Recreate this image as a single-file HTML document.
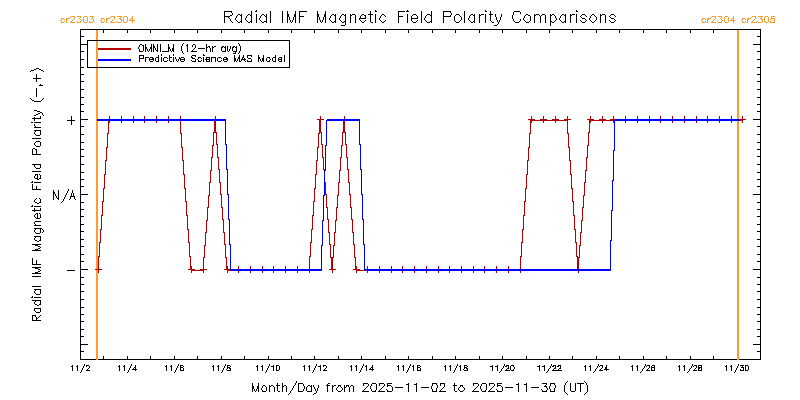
<!DOCTYPE html>
<html lang="en"><head><meta charset="utf-8"><title>Radial IMF Magnetic Field Polarity Comparisons</title>
<style>
html,body{margin:0;padding:0;background:#fff;font-family:"Liberation Sans",sans-serif}
svg{display:block;position:absolute;left:0;top:0}
svg path{fill:none;stroke-width:1;stroke-linecap:butt}
svg .tl text{font-family:"Liberation Sans",sans-serif;fill:#000;fill-opacity:0;stroke:none}
</style></head><body>
<svg width="800" height="400" viewBox="0 0 800 400" shape-rendering="crispEdges">
<rect width="800" height="400" fill="#fff"/>
<g role="img" aria-label="plot frame and axis ticks"><title>plot frame and axis ticks</title><path stroke="#000000" d="M80.5 29v331M103.5 29v4M103.5 356v4M127.5 29v4M127.5 356v4M150.5 29v4M150.5 356v4M174.5 29v4M174.5 356v4M197.5 29v4M197.5 356v4M221.5 29v4M221.5 356v4M244.5 29v4M244.5 356v4M268.5 29v4M268.5 356v4M291.5 29v4M291.5 356v4M314.5 29v4M314.5 356v4M338.5 29v4M338.5 356v4M361.5 29v4M361.5 356v4M385.5 29v4M385.5 356v4M408.5 29v4M408.5 356v4M432.5 29v4M432.5 356v4M455.5 29v4M455.5 356v4M479.5 29v4M479.5 356v4M502.5 29v4M502.5 356v4M526.5 29v4M526.5 356v4M549.5 29v4M549.5 356v4M572.5 29v4M572.5 356v4M596.5 29v4M596.5 356v4M619.5 29v4M619.5 356v4M643.5 29v4M643.5 356v4M666.5 29v4M666.5 356v4M690.5 29v4M690.5 356v4M713.5 29v4M713.5 356v4M737.5 29v4M737.5 356v4M760.5 29v331M81 29.5h22M104 29.5h23M128 29.5h22M151 29.5h23M175 29.5h22M198 29.5h23M222 29.5h22M245 29.5h23M269 29.5h22M292 29.5h22M315 29.5h23M339 29.5h22M362 29.5h23M386 29.5h22M409 29.5h23M433 29.5h22M456 29.5h23M480 29.5h22M503 29.5h23M527 29.5h22M550 29.5h22M573 29.5h23M597 29.5h22M620 29.5h23M644 29.5h22M667 29.5h23M691 29.5h22M714 29.5h23M738 29.5h22M81 36.5h3M757 36.5h3M81 44.5h7M753 44.5h7M81 51.5h3M757 51.5h3M81 59.5h3M757 59.5h3M81 67.5h3M757 67.5h3M81 74.5h3M757 74.5h3M81 81.5h3M757 81.5h3M81 89.5h3M757 89.5h3M81 97.5h3M757 97.5h3M81 104.5h3M757 104.5h3M81 111.5h3M757 111.5h3M81 119.5h7M753 119.5h7M81 126.5h3M757 126.5h3M81 134.5h3M757 134.5h3M81 142.5h3M757 142.5h3M81 149.5h3M757 149.5h3M81 156.5h3M757 156.5h3M81 164.5h3M757 164.5h3M81 172.5h3M757 172.5h3M81 179.5h3M757 179.5h3M81 186.5h3M757 186.5h3M81 194.5h7M753 194.5h7M81 202.5h3M757 202.5h3M81 209.5h3M757 209.5h3M81 216.5h3M757 216.5h3M81 224.5h3M757 224.5h3M81 231.5h3M757 231.5h3M81 239.5h3M757 239.5h3M81 246.5h3M757 246.5h3M81 254.5h3M757 254.5h3M81 261.5h3M757 261.5h3M81 269.5h7M753 269.5h7M81 277.5h3M757 277.5h3M81 284.5h3M757 284.5h3M81 291.5h3M757 291.5h3M81 299.5h3M757 299.5h3M81 307.5h3M757 307.5h3M81 314.5h3M757 314.5h3M81 321.5h3M757 321.5h3M81 329.5h3M757 329.5h3M81 336.5h3M757 336.5h3M81 344.5h7M753 344.5h7M81 351.5h3M757 351.5h3M81 359.5h22M104 359.5h23M128 359.5h22M151 359.5h23M175 359.5h22M198 359.5h23M222 359.5h22M245 359.5h23M269 359.5h22M292 359.5h22M315 359.5h23M339 359.5h22M362 359.5h23M386 359.5h22M409 359.5h23M433 359.5h22M456 359.5h23M480 359.5h22M503 359.5h23M527 359.5h22M550 359.5h22M573 359.5h23M597 359.5h22M620 359.5h23M644 359.5h22M667 359.5h23M691 359.5h22M714 359.5h23M738 359.5h22"/></g>
<g role="img" aria-label="Carrington rotation boundaries"><title>Carrington rotation boundaries</title><path stroke="#FF9B2D" d="M96.5 30v330M97.5 30v330M737.5 30v330M738.5 30v330"/></g>
<g role="img" aria-label="Radial IMF Magnetic Field Polarity Comparisons"><title>Radial IMF Magnetic Field Polarity Comparisons</title><path stroke="#000000" d="M224.5 11v12M241.5 14v9M251.5 11v12M256.5 14v9M266.5 14v9M270.5 11v12M282.5 11v12M287.5 11v12M288.5 14v3M289.5 17v3M293.5 17v3M294.5 14v3M295.5 11v12M299.5 11v12M317.5 11v12M318.5 14v3M319.5 17v3M323.5 17v3M324.5 14v3M325.5 11v12M335.5 14v9M345.5 14v11M350.5 14v9M355.5 15v8M360.5 16v3M365.5 15v4M370.5 11v11M375.5 14v9M398.5 11v12M407.5 14v9M411.5 16v5M417.5 16v3M421.5 11v12M431.5 11v12M443.5 11v12M454.5 16v5M461.5 17v3M464.5 11v12M474.5 14v9M479.5 14v9M485.5 14v9M490.5 11v10M495.5 14v3M496.5 17v3M500.5 17v3M501.5 14v3M512.5 15v4M513.5 12v3M530.5 16v5M534.5 14v9M540.5 16v7M545.5 15v8M550.5 14v12M565.5 14v9M570.5 14v9M576.5 14v9M596.5 17v3M600.5 14v9M605.5 15v8M256 10.5h1M375 10.5h1M407 10.5h1M485 10.5h1M576 10.5h1M225 11.5h7M255 11.5h2M300 11.5h7M375 11.5h2M399 11.5h6M406 11.5h3M444 11.5h7M485 11.5h2M514 11.5h6M576 11.5h2M231 12.5h1M450 12.5h1M520 12.5h1M232 13.5h1M451 13.5h1M520 13.5h1M232 14.5h1M238 14.5h2M248 14.5h2M262 14.5h2M332 14.5h2M342 14.5h2M352 14.5h3M362 14.5h2M368 14.5h2M371 14.5h2M382 14.5h2M413 14.5h3M427 14.5h3M451 14.5h1M456 14.5h3M471 14.5h2M481 14.5h3M489 14.5h1M491 14.5h2M526 14.5h2M536 14.5h3M542 14.5h3M552 14.5h2M562 14.5h2M572 14.5h3M582 14.5h3M592 14.5h2M602 14.5h3M611 14.5h3M230 15.5h2M237 15.5h1M240 15.5h1M247 15.5h1M250 15.5h1M261 15.5h1M264 15.5h1M331 15.5h1M334 15.5h1M341 15.5h1M344 15.5h1M351 15.5h1M361 15.5h1M364 15.5h1M381 15.5h1M384 15.5h1M412 15.5h1M416 15.5h1M426 15.5h1M430 15.5h1M450 15.5h1M455 15.5h1M459 15.5h1M470 15.5h1M473 15.5h1M480 15.5h1M525 15.5h1M528 15.5h2M535 15.5h1M539 15.5h1M541 15.5h1M551 15.5h1M554 15.5h1M561 15.5h1M564 15.5h1M571 15.5h1M581 15.5h1M585 15.5h1M591 15.5h1M594 15.5h1M601 15.5h1M610 15.5h1M614 15.5h1M225 16.5h5M236 16.5h1M246 16.5h1M260 16.5h1M265 16.5h1M300 16.5h4M330 16.5h1M340 16.5h1M380 16.5h1M385 16.5h1M399 16.5h4M425 16.5h1M444 16.5h7M460 16.5h1M469 16.5h1M524 16.5h1M555 16.5h1M560 16.5h1M580 16.5h1M586 16.5h1M590 16.5h1M595 16.5h1M609 16.5h1M615 16.5h1M228 17.5h1M236 17.5h1M246 17.5h1M260 17.5h1M330 17.5h1M340 17.5h1M380 17.5h1M425 17.5h1M469 17.5h1M524 17.5h1M555 17.5h1M560 17.5h1M581 17.5h1M590 17.5h1M610 17.5h1M229 18.5h1M235 18.5h1M245 18.5h1M259 18.5h1M329 18.5h1M339 18.5h1M359 18.5h1M361 18.5h4M379 18.5h1M412 18.5h5M424 18.5h1M468 18.5h1M523 18.5h1M556 18.5h1M559 18.5h1M582 18.5h3M589 18.5h1M611 18.5h3M230 19.5h1M235 19.5h1M245 19.5h1M259 19.5h1M329 19.5h1M339 19.5h1M359 19.5h1M379 19.5h1M424 19.5h1M468 19.5h1M513 19.5h1M520 19.5h1M523 19.5h1M556 19.5h1M559 19.5h1M585 19.5h1M589 19.5h1M614 19.5h1M230 20.5h1M236 20.5h1M246 20.5h1M260 20.5h1M290 20.5h1M292 20.5h1M320 20.5h1M322 20.5h1M330 20.5h1M340 20.5h1M360 20.5h1M365 20.5h1M380 20.5h1M385 20.5h1M417 20.5h1M425 20.5h1M460 20.5h1M469 20.5h1M497 20.5h1M499 20.5h1M513 20.5h1M520 20.5h1M524 20.5h1M555 20.5h1M560 20.5h1M580 20.5h1M586 20.5h1M590 20.5h1M595 20.5h1M609 20.5h1M615 20.5h1M231 21.5h1M237 21.5h1M240 21.5h1M247 21.5h1M250 21.5h1M261 21.5h1M264 21.5h2M290 21.5h1M292 21.5h1M320 21.5h1M322 21.5h1M331 21.5h1M334 21.5h1M341 21.5h1M344 21.5h1M361 21.5h1M364 21.5h1M381 21.5h1M384 21.5h1M412 21.5h1M416 21.5h1M426 21.5h1M430 21.5h1M455 21.5h1M459 21.5h1M470 21.5h1M473 21.5h1M491 21.5h1M497 21.5h1M499 21.5h1M514 21.5h1M519 21.5h1M525 21.5h1M529 21.5h1M551 21.5h1M554 21.5h1M561 21.5h1M564 21.5h1M581 21.5h1M585 21.5h1M591 21.5h1M594 21.5h1M610 21.5h1M614 21.5h1M232 22.5h1M238 22.5h2M248 22.5h2M262 22.5h2M291 22.5h1M321 22.5h1M332 22.5h2M342 22.5h2M362 22.5h2M371 22.5h2M382 22.5h2M413 22.5h3M427 22.5h3M456 22.5h3M471 22.5h2M492 22.5h2M498 22.5h1M515 22.5h4M526 22.5h3M552 22.5h2M562 22.5h2M582 22.5h3M592 22.5h2M611 22.5h3M498 23.5h1M497 24.5h1M341 25.5h4M494 25.5h3"/></g>
<g role="img" aria-label="Month/Day from 2025-11-02 to 2025-11-30 (UT)"><title>Month/Day from 2025-11-02 to 2025-11-30 (UT)</title><path stroke="#000000" d="M252.5 383v9M253.5 386v3M257.5 386v3M258.5 383v9M266.5 387v4M269.5 385v7M274.5 387v5M277.5 383v8M282.5 383v9M286.5 386v6M298.5 383v9M304.5 386v3M306.5 387v4M311.5 385v7M317.5 388v3M318.5 385v3M327.5 384v8M332.5 385v7M344.5 385v7M349.5 387v5M353.5 386v6M363.5 383v3M370.5 386v3M376.5 384v6M379.5 383v3M387.5 383v4M392.5 387v4M408.5 383v9M416.5 383v9M431.5 386v3M432.5 383v3M432.5 389v3M436.5 388v4M437.5 385v3M440.5 383v3M444.5 383v4M454.5 383v8M473.5 383v3M480.5 386v3M486.5 384v6M489.5 383v3M497.5 383v4M502.5 387v4M518.5 383v9M526.5 383v9M549.5 386v3M550.5 383v3M550.5 389v3M554.5 388v4M555.5 385v3M564.5 385v7M570.5 383v8M575.5 383v8M580.5 383v9M587.5 385v7M296 381.5h1M567 381.5h1M584 381.5h1M296 382.5h1M566 382.5h1M585 382.5h1M295 383.5h1M299 383.5h4M328 383.5h2M364 383.5h4M372 383.5h4M380 383.5h4M388 383.5h4M433 383.5h4M441 383.5h3M474 383.5h4M482 383.5h4M490 383.5h4M498 383.5h4M542 383.5h5M551 383.5h4M565 383.5h1M577 383.5h3M581 383.5h3M586 383.5h1M295 384.5h1M303 384.5h1M368 384.5h1M371 384.5h1M384 384.5h1M406 384.5h2M414 384.5h2M436 384.5h1M478 384.5h1M481 384.5h1M494 384.5h1M516 384.5h2M524 384.5h2M546 384.5h1M554 384.5h1M565 384.5h1M586 384.5h1M263 385.5h2M271 385.5h2M276 385.5h1M278 385.5h2M284 385.5h2M294 385.5h1M303 385.5h1M308 385.5h2M313 385.5h1M326 385.5h1M328 385.5h2M334 385.5h2M338 385.5h3M346 385.5h3M351 385.5h2M368 385.5h1M371 385.5h1M384 385.5h1M388 385.5h3M453 385.5h1M455 385.5h2M460 385.5h3M478 385.5h1M481 385.5h1M494 385.5h1M498 385.5h3M545 385.5h1M262 386.5h1M265 386.5h1M270 386.5h1M273 386.5h1M283 386.5h1M293 386.5h1M307 386.5h1M310 386.5h1M313 386.5h1M333 386.5h1M338 386.5h1M340 386.5h1M346 386.5h1M348 386.5h1M350 386.5h1M367 386.5h1M383 386.5h1M391 386.5h1M460 386.5h1M462 386.5h1M477 386.5h1M493 386.5h1M501 386.5h1M544 386.5h3M262 387.5h1M293 387.5h1M314 387.5h1M337 387.5h1M341 387.5h1M345 387.5h1M366 387.5h1M382 387.5h1M395 387.5h8M421 387.5h8M443 387.5h1M459 387.5h1M463 387.5h1M476 387.5h1M492 387.5h1M505 387.5h8M531 387.5h8M546 387.5h1M261 388.5h1M292 388.5h1M314 388.5h1M336 388.5h1M342 388.5h1M365 388.5h1M381 388.5h1M442 388.5h1M458 388.5h1M464 388.5h1M475 388.5h1M491 388.5h1M547 388.5h1M254 389.5h1M256 389.5h1M261 389.5h1M292 389.5h1M303 389.5h1M315 389.5h1M336 389.5h1M342 389.5h1M364 389.5h1M371 389.5h1M380 389.5h1M386 389.5h1M441 389.5h1M458 389.5h1M464 389.5h1M474 389.5h1M481 389.5h1M490 389.5h1M496 389.5h1M541 389.5h1M547 389.5h1M254 390.5h1M256 390.5h1M262 390.5h1M291 390.5h1M303 390.5h1M315 390.5h1M337 390.5h1M341 390.5h1M363 390.5h1M371 390.5h1M375 390.5h1M379 390.5h1M387 390.5h1M440 390.5h1M459 390.5h1M463 390.5h1M473 390.5h1M481 390.5h1M485 390.5h1M489 390.5h1M497 390.5h1M542 390.5h1M546 390.5h1M255 391.5h1M262 391.5h4M278 391.5h2M290 391.5h1M299 391.5h4M307 391.5h4M316 391.5h1M338 391.5h3M362 391.5h7M372 391.5h4M378 391.5h7M387 391.5h5M433 391.5h3M439 391.5h7M455 391.5h2M460 391.5h3M472 391.5h7M482 391.5h4M488 391.5h7M497 391.5h5M542 391.5h5M551 391.5h3M571 391.5h4M290 392.5h1M316 392.5h1M565 392.5h1M586 392.5h1M289 393.5h1M314 393.5h2M566 393.5h1M585 393.5h1M288 394.5h1M313 394.5h1M567 394.5h1M584 394.5h1"/></g>
<g role="img" aria-label="Radial IMF Magnetic Field Polarity (-,+)"><title>Radial IMF Magnetic Field Polarity (-,+)</title><path stroke="#000000" d="M32.5 149v6M32.5 184v6M32.5 258v7M32.5 315v6M34.5 117v4M34.5 164v3M34.5 208v4M34.5 308v3M36.5 74v8M36.5 88v9M36.5 149v6M36.5 186v4M36.5 260v5M36.5 317v4M37.5 174v6M37.5 213v6M40.5 116v3M40.5 130v5M40.5 142v4M40.5 164v4M40.5 175v4M40.5 199v4M40.5 208v3M40.5 214v4M40.5 228v5M40.5 236v5M40.5 289v5M40.5 300v5M40.5 308v4M36 68.5h3M34 69.5h2M39 69.5h2M31 70.5h3M41 70.5h2M30 71.5h1M43 71.5h1M33 78.5h3M37 78.5h4M40 84.5h1M39 85.5h4M30 98.5h1M43 98.5h1M31 99.5h1M42 99.5h1M32 100.5h2M41 100.5h1M34 101.5h7M34 110.5h3M37 111.5h3M40 112.5h2M38 113.5h2M42 113.5h1M36 114.5h2M42 114.5h1M34 115.5h2M43 115.5h1M32 118.5h2M35 118.5h5M31 122.5h2M34 122.5h7M34 124.5h1M34 125.5h1M35 126.5h1M34 127.5h7M34 130.5h6M35 131.5h1M34 132.5h1M34 133.5h1M35 134.5h1M36 135.5h4M32 138.5h9M36 141.5h4M35 142.5h1M34 143.5h1M34 144.5h1M35 145.5h1M36 146.5h4M33 148.5h2M35 149.5h1M33 154.5h3M37 154.5h4M32 164.5h2M35 164.5h5M35 167.5h1M36 168.5h4M32 171.5h9M35 174.5h2M39 174.5h1M35 175.5h1M34 176.5h1M34 177.5h1M35 178.5h2M39 178.5h1M38 179.5h1M32 181.5h1M31 182.5h2M34 182.5h7M33 189.5h3M37 189.5h4M36 198.5h1M39 198.5h1M35 199.5h1M34 200.5h1M34 201.5h1M35 202.5h2M39 202.5h1M37 203.5h2M32 205.5h1M31 206.5h2M34 206.5h7M32 210.5h2M35 210.5h5M36 213.5h1M39 213.5h1M35 214.5h1M34 215.5h1M34 216.5h1M35 217.5h1M36 218.5h1M38 218.5h2M35 221.5h6M34 222.5h1M34 223.5h1M35 224.5h1M34 225.5h7M34 228.5h6M41 228.5h1M35 229.5h1M42 229.5h1M34 230.5h1M43 230.5h1M34 231.5h1M43 231.5h1M35 232.5h1M42 232.5h1M36 233.5h4M34 236.5h6M35 237.5h1M34 238.5h1M34 239.5h1M35 240.5h2M39 240.5h1M37 241.5h2M32 244.5h9M35 245.5h3M38 246.5h2M40 247.5h1M38 248.5h2M35 249.5h3M32 250.5h9M33 264.5h3M37 264.5h4M32 267.5h9M35 268.5h3M38 269.5h2M40 270.5h1M38 271.5h2M35 272.5h3M32 273.5h9M32 276.5h9M32 286.5h9M34 289.5h6M35 290.5h1M34 291.5h1M34 292.5h1M35 293.5h1M36 294.5h4M32 296.5h1M31 297.5h2M34 297.5h7M32 300.5h8M35 301.5h1M34 302.5h1M34 303.5h1M35 304.5h2M39 304.5h1M37 305.5h2M35 308.5h5M35 311.5h1M36 312.5h4M33 315.5h3M40 315.5h1M35 316.5h1M39 316.5h1M38 317.5h1M37 318.5h1M33 320.5h3M37 320.5h4"/></g>
<g role="img" aria-label="11/2"><title>11/2</title><path stroke="#000000" d="M72.5 365v6M77.5 365v6M84 364.5h1M84 365.5h1M86 365.5h3M71 366.5h1M76 366.5h1M83 366.5h1M86 366.5h1M89 366.5h1M83 367.5h1M89 367.5h1M82 368.5h1M88 368.5h1M82 369.5h1M87 369.5h1M81 370.5h1M86 370.5h4M81 371.5h1M80 372.5h1"/></g>
<g role="img" aria-label="11/4"><title>11/4</title><path stroke="#000000" d="M119.5 365v6M124.5 365v6M135.5 365v6M131 364.5h1M131 365.5h1M118 366.5h1M123 366.5h1M130 366.5h1M130 367.5h1M134 367.5h1M129 368.5h1M133 368.5h1M129 369.5h1M132 369.5h3M136 369.5h1M128 370.5h1M128 371.5h1M127 372.5h1"/></g>
<g role="img" aria-label="11/6"><title>11/6</title><path stroke="#000000" d="M166.5 365v6M171.5 365v6M180.5 365v6M183.5 368v3M178 364.5h1M178 365.5h1M181 365.5h2M165 366.5h1M170 366.5h1M177 366.5h1M183 366.5h1M177 367.5h1M181 367.5h2M176 368.5h1M176 369.5h1M175 370.5h1M181 370.5h2M175 371.5h1M174 372.5h1"/></g>
<g role="img" aria-label="11/8"><title>11/8</title><path stroke="#000000" d="M213.5 365v6M218.5 365v6M227.5 365v4M230.5 368v3M225 364.5h1M225 365.5h1M228 365.5h2M212 366.5h1M217 366.5h1M224 366.5h1M230 366.5h1M224 367.5h1M228 367.5h2M223 368.5h1M229 368.5h1M223 369.5h1M226 369.5h1M222 370.5h1M227 370.5h3M222 371.5h1M221 372.5h1"/></g>
<g role="img" aria-label="11/10"><title>11/10</title><path stroke="#000000" d="M257.5 365v6M262.5 365v6M273.5 365v6M276.5 365v6M279.5 366v4M269 364.5h1M269 365.5h1M277 365.5h2M256 366.5h1M261 366.5h1M268 366.5h1M271 366.5h2M268 367.5h1M267 368.5h1M267 369.5h1M266 370.5h1M277 370.5h2M266 371.5h1M265 372.5h1"/></g>
<g role="img" aria-label="11/12"><title>11/12</title><path stroke="#000000" d="M304.5 365v6M309.5 365v6M320.5 365v6M316 364.5h1M316 365.5h1M323 365.5h3M303 366.5h1M308 366.5h1M315 366.5h1M318 366.5h2M323 366.5h1M326 366.5h1M315 367.5h1M326 367.5h1M314 368.5h1M325 368.5h1M314 369.5h1M324 369.5h1M313 370.5h1M323 370.5h4M313 371.5h1M312 372.5h1"/></g>
<g role="img" aria-label="11/14"><title>11/14</title><path stroke="#000000" d="M351.5 365v6M356.5 365v6M366.5 365v6M372.5 365v6M363 364.5h1M363 365.5h1M350 366.5h1M355 366.5h1M362 366.5h1M365 366.5h1M362 367.5h1M371 367.5h1M361 368.5h1M370 368.5h1M361 369.5h1M369 369.5h3M373 369.5h1M360 370.5h1M360 371.5h1M359 372.5h1"/></g>
<g role="img" aria-label="11/16"><title>11/16</title><path stroke="#000000" d="M398.5 365v6M403.5 365v6M413.5 365v6M417.5 365v6M420.5 368v3M410 364.5h1M410 365.5h1M418 365.5h2M397 366.5h1M402 366.5h1M409 366.5h1M412 366.5h1M420 366.5h1M409 367.5h1M418 367.5h2M408 368.5h1M408 369.5h1M407 370.5h1M418 370.5h2M407 371.5h1M406 372.5h1"/></g>
<g role="img" aria-label="11/18"><title>11/18</title><path stroke="#000000" d="M445.5 365v6M450.5 365v6M460.5 365v6M464.5 365v4M467.5 368v3M457 364.5h1M457 365.5h1M465 365.5h2M444 366.5h1M449 366.5h1M456 366.5h1M459 366.5h1M467 366.5h1M456 367.5h1M465 367.5h2M455 368.5h1M466 368.5h1M455 369.5h1M463 369.5h1M454 370.5h1M464 370.5h3M454 371.5h1M453 372.5h1"/></g>
<g role="img" aria-label="11/20"><title>11/20</title><path stroke="#000000" d="M492.5 365v6M497.5 365v6M508.5 365v4M510.5 366v4M504 364.5h1M504 365.5h1M506 365.5h2M511 365.5h3M490 366.5h2M495 366.5h2M503 366.5h1M505 366.5h2M513 366.5h1M503 367.5h1M514 367.5h1M502 368.5h1M507 368.5h1M514 368.5h1M501 369.5h1M506 369.5h1M513 369.5h1M501 370.5h1M505 370.5h5M511 370.5h3M500 371.5h1M499 372.5h1"/></g>
<g role="img" aria-label="11/22"><title>11/22</title><path stroke="#000000" d="M539.5 365v6M544.5 365v6M555.5 365v4M560.5 365v4M551 364.5h1M551 365.5h1M553 365.5h2M558 365.5h2M537 366.5h2M542 366.5h2M550 366.5h1M552 366.5h2M557 366.5h2M550 367.5h1M549 368.5h1M554 368.5h1M559 368.5h1M548 369.5h1M553 369.5h1M558 369.5h1M548 370.5h1M552 370.5h10M547 371.5h1M546 372.5h1"/></g>
<g role="img" aria-label="11/24"><title>11/24</title><path stroke="#000000" d="M585.5 365v6M590.5 365v6M602.5 365v3M605.5 367v3M606.5 365v6M598 364.5h1M598 365.5h1M600 365.5h2M584 366.5h1M589 366.5h1M597 366.5h1M599 366.5h1M597 367.5h1M596 368.5h1M601 368.5h1M595 369.5h1M600 369.5h1M604 369.5h1M607 369.5h2M595 370.5h1M599 370.5h4M594 371.5h1M593 372.5h1"/></g>
<g role="img" aria-label="11/26"><title>11/26</title><path stroke="#000000" d="M632.5 365v6M637.5 365v6M649.5 365v3M651.5 366v5M654.5 365v6M645 364.5h1M645 365.5h1M647 365.5h2M652 365.5h2M631 366.5h1M636 366.5h1M644 366.5h1M646 366.5h1M644 367.5h1M652 367.5h2M643 368.5h1M648 368.5h1M642 369.5h1M647 369.5h1M642 370.5h1M646 370.5h4M652 370.5h2M641 371.5h1M640 372.5h1"/></g>
<g role="img" aria-label="11/28"><title>11/28</title><path stroke="#000000" d="M679.5 365v6M684.5 365v6M696.5 365v3M698.5 365v6M701.5 365v6M692 364.5h1M692 365.5h1M694 365.5h2M699 365.5h2M678 366.5h1M683 366.5h1M691 366.5h1M693 366.5h1M691 367.5h1M699 367.5h2M690 368.5h1M695 368.5h1M699 368.5h1M689 369.5h1M694 369.5h1M689 370.5h1M693 370.5h4M699 370.5h2M688 371.5h1M687 372.5h1"/></g>
<g role="img" aria-label="11/30"><title>11/30</title><path stroke="#000000" d="M726.5 365v6M731.5 365v6M742.5 365v3M743.5 367v4M745.5 365v6M748.5 366v4M738 364.5h1M738 365.5h1M740 365.5h2M743 365.5h1M746 365.5h2M725 366.5h1M730 366.5h1M737 366.5h1M737 367.5h1M741 367.5h1M736 368.5h1M736 369.5h1M740 369.5h1M735 370.5h1M740 370.5h3M746 370.5h2M735 371.5h1M734 372.5h1"/></g>
<g role="img" aria-label="+"><title>+</title><path stroke="#000000" d="M71.5 116v9M67 120.5h4M72 120.5h3"/></g>
<g role="img" aria-label="N/A"><title>N/A</title><path stroke="#000000" d="M53.5 190v10M58.5 190v10M70.5 196v3M71.5 193v4M72.5 190v3M73.5 193v4M74.5 196v3M68 189.5h1M68 190.5h1M67 191.5h1M54 192.5h1M67 192.5h1M54 193.5h1M66 193.5h1M55 194.5h1M66 194.5h1M55 195.5h1M65 195.5h1M56 196.5h1M65 196.5h1M72 196.5h1M56 197.5h1M64 197.5h1M57 198.5h1M64 198.5h1M63 199.5h1M69 199.5h1M75 199.5h1M63 200.5h1M62 201.5h1M61 202.5h1"/></g>
<g role="img" aria-label="-"><title>-</title><path stroke="#000000" d="M67 270.5h8"/></g>
<g role="img" aria-label="legend box"><title>legend box</title><path stroke="#000000" d="M87.5 40v28M289.5 40v28M88 40.5h201M88 67.5h201"/></g>
<g role="img" aria-label="OMNI_M (12-hr avg)"><title>OMNI_M (12-hr avg)</title><path stroke="#000000" d="M139.5 49v3M143.5 45v6M145.5 44v8M151.5 44v8M153.5 44v8M157.5 44v8M160.5 44v8M168.5 44v8M172.5 48v3M173.5 44v8M181.5 46v5M187.5 44v8M195.5 45v3M206.5 44v8M210.5 48v4M212.5 46v6M221.5 47v4M225.5 46v6M227.5 46v5M230.5 46v3M232.5 47v4M235.5 51v3M236.5 46v6M240.5 46v5M183 43.5h1M238 43.5h1M140 44.5h2M182 44.5h1M193 44.5h2M239 44.5h1M139 45.5h1M142 45.5h1M182 45.5h1M186 45.5h1M192 45.5h1M239 45.5h1M139 46.5h1M154 46.5h1M192 46.5h1M208 46.5h2M214 46.5h2M222 46.5h2M233 46.5h2M138 47.5h1M146 47.5h1M150 47.5h1M154 47.5h1M169 47.5h1M207 47.5h1M209 47.5h1M213 47.5h1M222 47.5h1M224 47.5h1M233 47.5h1M235 47.5h1M138 48.5h1M146 48.5h1M150 48.5h1M155 48.5h1M169 48.5h1M194 48.5h1M198 48.5h7M147 49.5h1M149 49.5h1M155 49.5h1M170 49.5h1M193 49.5h1M229 49.5h1M147 50.5h1M149 50.5h1M156 50.5h1M170 50.5h1M192 50.5h1M229 50.5h1M140 51.5h3M148 51.5h1M162 51.5h6M171 51.5h1M182 51.5h1M191 51.5h6M222 51.5h3M228 51.5h1M233 51.5h2M239 51.5h1M182 52.5h1M239 52.5h1M183 53.5h1M233 53.5h2M238 53.5h1"/></g>
<g role="img" aria-label="Predictive Science MAS Model"><title>Predictive Science MAS Model</title><path stroke="#000000" d="M139.5 55v7M143.5 55v4M145.5 57v5M149.5 58v3M152.5 57v3M153.5 58v3M155.5 58v3M158.5 55v7M161.5 57v5M163.5 58v3M169.5 55v6M173.5 57v5M180.5 58v3M184.5 58v3M195.5 59v3M203.5 57v5M206.5 57v5M209.5 57v5M211.5 57v5M215.5 57v5M217.5 58v3M223.5 58v3M226.5 57v3M227.5 58v3M234.5 55v7M235.5 58v3M239.5 55v7M242.5 57v3M243.5 55v3M244.5 58v3M247.5 55v3M251.5 59v3M258.5 55v7M262.5 58v3M263.5 55v7M266.5 58v3M272.5 58v3M275.5 55v7M278.5 58v3M281.5 57v5M284.5 55v7M161 54.5h1M173 54.5h1M203 54.5h1M140 55.5h3M161 55.5h1M173 55.5h1M192 55.5h4M203 55.5h2M248 55.5h4M191 56.5h1M195 56.5h1M251 56.5h1M146 57.5h3M150 57.5h2M156 57.5h2M164 57.5h3M170 57.5h2M175 57.5h1M179 57.5h1M181 57.5h3M191 57.5h2M198 57.5h3M207 57.5h2M212 57.5h3M218 57.5h3M224 57.5h2M238 57.5h1M259 57.5h1M267 57.5h3M273 57.5h2M279 57.5h2M140 58.5h3M167 58.5h1M175 58.5h1M179 58.5h1M192 58.5h3M198 58.5h1M201 58.5h1M221 58.5h1M238 58.5h1M248 58.5h3M259 58.5h1M269 58.5h1M150 59.5h2M176 59.5h1M178 59.5h1M181 59.5h3M197 59.5h1M205 59.5h1M207 59.5h2M224 59.5h2M237 59.5h1M241 59.5h1M243 59.5h1M245 59.5h1M260 59.5h1M270 59.5h1M279 59.5h2M167 60.5h1M176 60.5h1M178 60.5h1M191 60.5h1M198 60.5h1M201 60.5h1M221 60.5h1M237 60.5h1M241 60.5h1M247 60.5h1M260 60.5h1M269 60.5h1M150 61.5h3M156 61.5h2M164 61.5h3M170 61.5h2M177 61.5h1M181 61.5h3M192 61.5h3M198 61.5h3M207 61.5h2M218 61.5h3M224 61.5h3M236 61.5h1M240 61.5h1M245 61.5h1M247 61.5h4M261 61.5h1M267 61.5h3M273 61.5h2M279 61.5h2"/></g>
<g role="img" aria-label="cr2303 cr2304"><title>cr2303 cr2304</title><path stroke="#FF9B2D" d="M66.5 18v5M74.5 16v3M83.5 17v5M87.5 17v5M92.5 16v3M93.5 19v3M106.5 18v5M114.5 16v3M120.5 16v4M121.5 19v3M123.5 17v5M127.5 17v5M132.5 16v7M71 16.5h3M77 16.5h4M84 16.5h3M90 16.5h2M93 16.5h1M111 16.5h3M117 16.5h3M121 16.5h1M124 16.5h3M70 17.5h1M80 17.5h1M110 17.5h1M61 18.5h3M67 18.5h3M79 18.5h1M91 18.5h1M101 18.5h3M107 18.5h3M119 18.5h1M131 18.5h1M61 19.5h1M64 19.5h1M67 19.5h1M73 19.5h1M80 19.5h1M101 19.5h1M104 19.5h1M107 19.5h1M113 19.5h1M130 19.5h1M60 20.5h1M72 20.5h1M81 20.5h1M100 20.5h1M112 20.5h1M129 20.5h3M133 20.5h2M61 21.5h1M64 21.5h1M71 21.5h1M76 21.5h1M80 21.5h1M89 21.5h1M101 21.5h1M104 21.5h1M111 21.5h1M116 21.5h1M61 22.5h3M70 22.5h5M77 22.5h4M84 22.5h3M89 22.5h4M101 22.5h3M110 22.5h6M117 22.5h4M124 22.5h3"/></g>
<g role="img" aria-label="cr2304 cr2305"><title>cr2304 cr2305</title><path stroke="#FF9B2D" d="M707.5 18v5M715.5 16v3M724.5 17v5M728.5 17v5M733.5 16v7M747.5 18v5M755.5 16v3M761.5 16v4M762.5 19v3M764.5 17v5M768.5 17v5M771.5 16v3M774.5 18v5M712 16.5h3M718 16.5h4M725 16.5h3M752 16.5h3M758 16.5h3M762 16.5h1M765 16.5h3M772 16.5h3M711 17.5h1M721 17.5h1M751 17.5h1M702 18.5h3M708 18.5h3M720 18.5h1M732 18.5h1M742 18.5h3M748 18.5h3M760 18.5h1M772 18.5h2M702 19.5h1M705 19.5h1M708 19.5h1M714 19.5h1M721 19.5h1M731 19.5h1M742 19.5h1M745 19.5h1M748 19.5h1M754 19.5h1M770 19.5h1M701 20.5h1M713 20.5h1M722 20.5h1M730 20.5h3M734 20.5h2M741 20.5h1M753 20.5h1M702 21.5h1M705 21.5h1M712 21.5h1M717 21.5h1M721 21.5h1M742 21.5h1M745 21.5h1M752 21.5h1M757 21.5h1M770 21.5h1M702 22.5h3M711 22.5h5M718 22.5h4M725 22.5h3M742 22.5h3M751 22.5h6M758 22.5h4M765 22.5h3M770 22.5h4"/></g>
<g role="img" aria-label="OMNI_M legend line"><title>OMNI_M legend line</title><path stroke="#B40000" d="M98 48.5h33M98 49.5h33"/></g>
<g role="img" aria-label="MAS model legend line"><title>MAS model legend line</title><path stroke="#0000FF" d="M98 59.5h33M98 60.5h33"/></g>
<g role="img" aria-label="OMNI_M (12-hr avg) polarity series"><title>OMNI_M (12-hr avg) polarity series</title><path stroke="#B40000" d="M98.5 256v17M99.5 242v15M100.5 229v14M101.5 215v15M102.5 201v15M103.5 188v14M104.5 174v15M105.5 160v15M106.5 147v14M107.5 133v15M108.5 119v15M109.5 116v7M121.5 116v7M133.5 116v7M144.5 116v7M156.5 116v7M168.5 116v7M180.5 116v18M181.5 133v15M182.5 147v14M183.5 160v15M184.5 174v15M185.5 188v14M186.5 201v15M187.5 215v15M188.5 229v14M189.5 242v15M190.5 256v14M191.5 266v7M203.5 257v16M204.5 245v13M205.5 232v14M206.5 220v13M207.5 207v14M208.5 195v13M209.5 182v14M210.5 170v13M211.5 157v14M212.5 145v13M213.5 132v14M214.5 119v14M215.5 116v17M216.5 132v13M217.5 144v14M218.5 157v13M219.5 169v14M220.5 182v13M221.5 194v14M222.5 207v13M223.5 219v14M224.5 232v13M225.5 244v14M226.5 257v13M227.5 266v7M238.5 266v7M250.5 266v7M262.5 266v7M273.5 266v7M285.5 266v7M297.5 266v7M309.5 256v17M310.5 242v15M311.5 229v14M312.5 215v15M313.5 201v15M314.5 188v14M315.5 174v15M316.5 160v15M317.5 147v14M318.5 133v15M319.5 119v15M320.5 116v17M321.5 132v13M322.5 144v14M323.5 157v13M324.5 169v14M325.5 182v13M326.5 194v14M327.5 207v13M328.5 219v14M329.5 232v13M330.5 244v14M331.5 257v13M332.5 257v16M333.5 245v13M334.5 232v14M335.5 220v13M336.5 207v14M337.5 195v13M338.5 182v14M339.5 170v13M340.5 157v14M341.5 145v13M342.5 132v14M343.5 119v14M344.5 116v17M345.5 132v13M346.5 144v14M347.5 157v13M348.5 169v14M349.5 182v13M350.5 194v14M351.5 207v13M352.5 219v14M353.5 232v13M354.5 244v14M355.5 257v13M356.5 266v7M367.5 266v7M379.5 266v7M391.5 266v7M402.5 266v7M414.5 266v7M426.5 266v7M438.5 266v7M449.5 266v7M461.5 266v7M473.5 266v7M484.5 266v7M496.5 266v7M508.5 266v7M520.5 256v17M521.5 242v15M522.5 229v14M523.5 215v15M524.5 201v15M525.5 188v14M526.5 174v15M527.5 160v15M528.5 147v14M529.5 133v15M530.5 119v15M531.5 116v7M543.5 116v7M555.5 116v7M567.5 116v18M568.5 133v15M569.5 147v14M570.5 160v15M571.5 174v15M572.5 188v14M573.5 201v15M574.5 215v15M575.5 229v14M576.5 242v15M577.5 256v14M578.5 257v16M579.5 245v13M580.5 232v14M581.5 220v13M582.5 207v14M583.5 195v13M584.5 182v14M585.5 170v13M586.5 157v14M587.5 145v13M588.5 132v14M589.5 119v14M590.5 116v7M602.5 116v7M613.5 116v7M625.5 116v7M637.5 116v7M649.5 116v7M660.5 116v7M672.5 116v7M684.5 116v7M696.5 116v7M707.5 116v7M719.5 116v7M731.5 116v7M742.5 116v7M106 119.5h2M110 119.5h3M118 119.5h3M122 119.5h3M130 119.5h3M134 119.5h3M141 119.5h3M145 119.5h3M153 119.5h3M157 119.5h3M165 119.5h3M169 119.5h3M177 119.5h3M181 119.5h3M212 119.5h2M216 119.5h3M317 119.5h2M321 119.5h3M341 119.5h2M345 119.5h3M528 119.5h2M532 119.5h3M540 119.5h3M544 119.5h3M552 119.5h3M556 119.5h3M564 119.5h3M568 119.5h3M587 119.5h2M591 119.5h3M599 119.5h3M603 119.5h3M610 119.5h3M614 119.5h3M622 119.5h3M626 119.5h3M634 119.5h3M638 119.5h3M646 119.5h3M650 119.5h3M657 119.5h3M661 119.5h3M669 119.5h3M673 119.5h3M681 119.5h3M685 119.5h3M693 119.5h3M697 119.5h3M704 119.5h3M708 119.5h3M716 119.5h3M720 119.5h3M728 119.5h3M732 119.5h3M739 119.5h3M743 119.5h3M110 120.5h11M122 120.5h11M134 120.5h10M145 120.5h11M157 120.5h11M169 120.5h11M532 120.5h11M544 120.5h11M556 120.5h11M591 120.5h11M603 120.5h10M614 120.5h11M626 120.5h11M638 120.5h11M650 120.5h10M661 120.5h11M673 120.5h11M685 120.5h11M697 120.5h10M708 120.5h11M720 120.5h11M732 120.5h10M95 269.5h3M99 269.5h3M188 269.5h2M192 269.5h3M200 269.5h3M204 269.5h3M224 269.5h2M228 269.5h3M235 269.5h3M239 269.5h3M247 269.5h3M251 269.5h3M259 269.5h3M263 269.5h3M270 269.5h3M274 269.5h3M282 269.5h3M286 269.5h3M294 269.5h3M298 269.5h3M306 269.5h3M310 269.5h3M329 269.5h2M333 269.5h3M353 269.5h2M357 269.5h3M364 269.5h3M368 269.5h3M376 269.5h3M380 269.5h3M388 269.5h3M392 269.5h3M399 269.5h3M403 269.5h3M411 269.5h3M415 269.5h3M423 269.5h3M427 269.5h3M435 269.5h3M439 269.5h3M446 269.5h3M450 269.5h3M458 269.5h3M462 269.5h3M470 269.5h3M474 269.5h3M481 269.5h3M485 269.5h3M493 269.5h3M497 269.5h3M505 269.5h3M509 269.5h3M517 269.5h3M521 269.5h3M575 269.5h2M579 269.5h3M192 270.5h11M228 270.5h10M239 270.5h11M251 270.5h11M263 270.5h10M274 270.5h11M286 270.5h11M298 270.5h11M357 270.5h10M368 270.5h11M380 270.5h11M392 270.5h10M403 270.5h11M415 270.5h11M427 270.5h11M439 270.5h10M450 270.5h11M462 270.5h11M474 270.5h10M485 270.5h11M497 270.5h11M509 270.5h11"/></g>
<g role="img" aria-label="Predictive Science MAS Model polarity series"><title>Predictive Science MAS Model polarity series</title><path stroke="#0000FF" d="M225.5 119v26M226.5 144v26M227.5 169v26M228.5 194v26M229.5 219v26M230.5 244v26M321.5 245v26M322.5 220v26M323.5 195v26M324.5 170v26M325.5 145v26M326.5 120v26M359.5 119v26M360.5 144v26M361.5 169v26M362.5 194v26M363.5 219v26M364.5 244v26M610.5 240v31M611.5 210v31M612.5 180v31M613.5 150v31M614.5 120v31M97 119.5h128M327 119.5h32M615 119.5h124M97 120.5h128M327 120.5h32M615 120.5h124M231 269.5h90M365 269.5h245M231 270.5h90M365 270.5h245"/></g>
<g class="tl">
<text x="222.9" y="22.2" font-size="15.43" textLength="394.0" lengthAdjust="spacingAndGlyphs">Radial IMF Magnetic Field Polarity Comparisons</text>
<text x="250.9" y="391.5" font-size="11.73" textLength="338.4" lengthAdjust="spacingAndGlyphs">Month/Day from 2025-11-02 to 2025-11-30 (UT)</text>
<text transform="translate(40.5 322.4) rotate(-90)" font-size="11.73" textLength="255.2" lengthAdjust="spacingAndGlyphs">Radial IMF Magnetic Field Polarity (-,+)</text>
<text x="69.8" y="370.8" font-size="7.33" textLength="20.5" lengthAdjust="spacingAndGlyphs">11/2</text>
<text x="116.7" y="370.8" font-size="7.33" textLength="20.5" lengthAdjust="spacingAndGlyphs">11/4</text>
<text x="163.6" y="370.8" font-size="7.33" textLength="20.5" lengthAdjust="spacingAndGlyphs">11/6</text>
<text x="210.5" y="370.8" font-size="7.33" textLength="20.5" lengthAdjust="spacingAndGlyphs">11/8</text>
<text x="254.9" y="370.8" font-size="7.33" textLength="25.5" lengthAdjust="spacingAndGlyphs">11/10</text>
<text x="301.8" y="370.8" font-size="7.33" textLength="25.5" lengthAdjust="spacingAndGlyphs">11/12</text>
<text x="348.7" y="370.8" font-size="7.33" textLength="25.5" lengthAdjust="spacingAndGlyphs">11/14</text>
<text x="395.6" y="370.8" font-size="7.33" textLength="25.5" lengthAdjust="spacingAndGlyphs">11/16</text>
<text x="442.5" y="370.8" font-size="7.33" textLength="25.5" lengthAdjust="spacingAndGlyphs">11/18</text>
<text x="489.4" y="370.8" font-size="7.33" textLength="25.5" lengthAdjust="spacingAndGlyphs">11/20</text>
<text x="536.3" y="370.8" font-size="7.33" textLength="25.5" lengthAdjust="spacingAndGlyphs">11/22</text>
<text x="583.2" y="370.8" font-size="7.33" textLength="25.5" lengthAdjust="spacingAndGlyphs">11/24</text>
<text x="630.1" y="370.8" font-size="7.33" textLength="25.5" lengthAdjust="spacingAndGlyphs">11/26</text>
<text x="677.0" y="370.8" font-size="7.33" textLength="25.5" lengthAdjust="spacingAndGlyphs">11/28</text>
<text x="723.9" y="370.8" font-size="7.33" textLength="25.5" lengthAdjust="spacingAndGlyphs">11/30</text>
<text x="65.8" y="124.1" font-size="11.73" textLength="10.4" lengthAdjust="spacingAndGlyphs">+</text>
<text x="51.4" y="199.2" font-size="11.73" textLength="24.8" lengthAdjust="spacingAndGlyphs">N/A</text>
<text x="65.8" y="274.1" font-size="11.73" textLength="10.4" lengthAdjust="spacingAndGlyphs">-</text>
<text x="137.8" y="51.3" font-size="9.25" textLength="104.1" lengthAdjust="spacingAndGlyphs">OMNI_M (12-hr avg)</text>
<text x="137.8" y="61.8" font-size="9.25" textLength="147.7" lengthAdjust="spacingAndGlyphs">Predictive Science MAS Model</text>
<text x="59.8" y="22.8" font-size="9.25" textLength="75.1" lengthAdjust="spacingAndGlyphs">cr2303 cr2304</text>
<text x="700.8" y="22.8" font-size="9.25" textLength="75.1" lengthAdjust="spacingAndGlyphs">cr2304 cr2305</text>
</g>
</svg>
</body></html>
